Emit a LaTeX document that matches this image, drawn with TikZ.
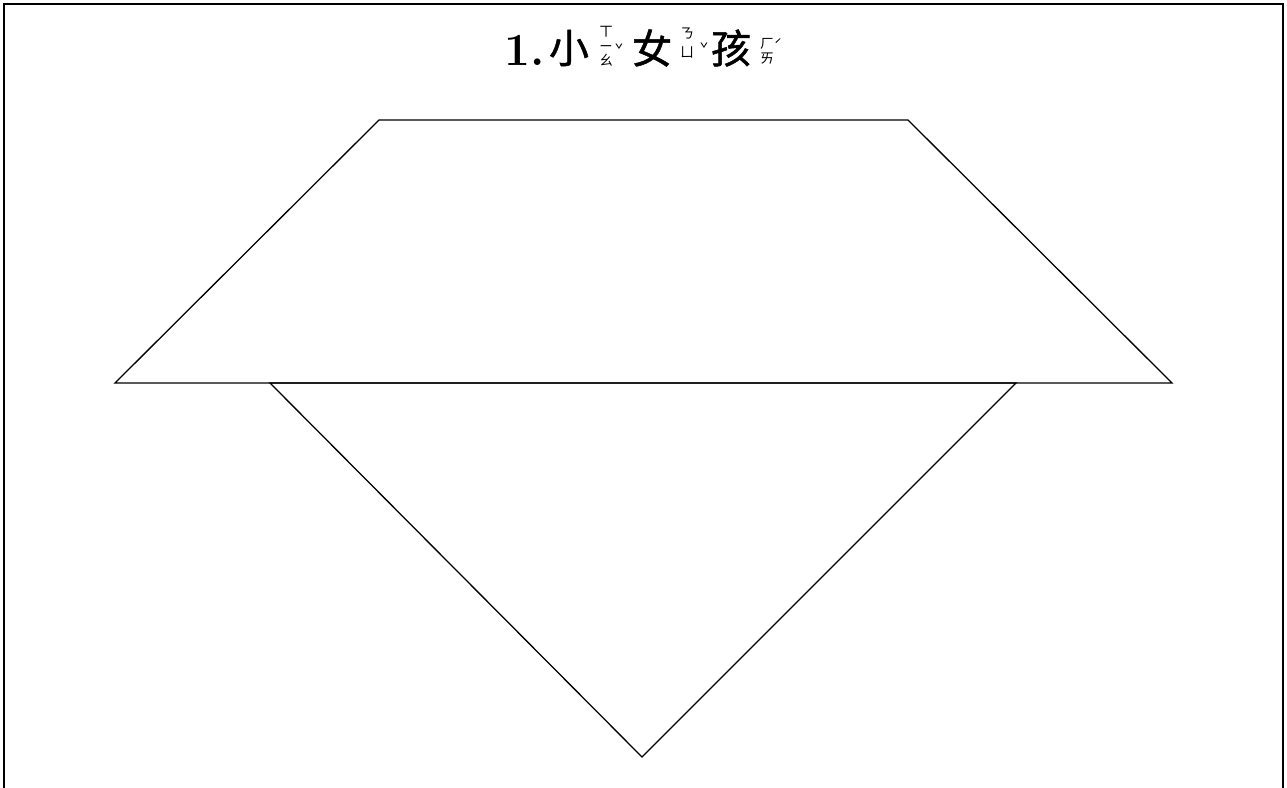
\documentclass[tikz,border=0pt]{standalone}
\usepackage{fontspec}
\newfontfamily\cjk{Noto Sans CJK TC}
\newfontfamily\cjkb[FakeBold=1.2]{Noto Sans CJK TC}
\begin{document}
\begin{tikzpicture}[x=1pt,y=-1pt,
  shapeline/.style={draw=black,line width=1.3pt,line join=miter},
  zy/.style={font=\cjk\fontsize{14}{14}\selectfont,inner sep=0pt,text height=10pt,text depth=1pt},
  big/.style={font=\cjkb\fontsize{40}{40}\selectfont,inner sep=0pt}]
\useasboundingbox (0,0) rectangle (1287,787);
% frame
\draw[line width=2.2pt] (4,800) -- (4,4) -- (1283,4) -- (1283,800);
% title
\node[inner sep=0pt,font=\fontsize{46}{46}\selectfont\bfseries] (n1) at (525,50) {1.};
\node[big] (c1) at (569,48) {小};
\node[zy] (z11) at (606,32) {ㄒ};
\node[zy] (z12) at (606,46.5) {ㄧ};
\node[zy] (z13) at (606,61) {ㄠ};
\node[zy] (t1) at (619,51) {ˇ};
\node[big] (c2) at (652,48) {女};
\node[zy] (z21) at (687,34) {ㄋ};
\node[zy] (z22) at (687,53) {ㄩ};
\node[zy] (t2) at (704,50) {ˇ};
\node[big] (c3) at (731,48) {孩};
\node[zy] (z31) at (767,44) {ㄏ};
\node[zy] (z32) at (767,58.5) {ㄞ};
\node[zy] (t3) at (778,46) {ˊ};
% diamond shapes
\coordinate (a1) at (379,120);
\coordinate (a2) at (908,120);
\coordinate (a3) at (1172,383);
\coordinate (a4) at (115,383);
\draw[shapeline] (a1) -- (a2) -- (a3) -- (a4) -- cycle;
\coordinate (b1) at (270,383);
\coordinate (b2) at (1016,383);
\coordinate (b3) at (642,757);
\draw[shapeline] (b1) -- (b2) -- (b3) -- cycle;
\end{tikzpicture}
\end{document}
